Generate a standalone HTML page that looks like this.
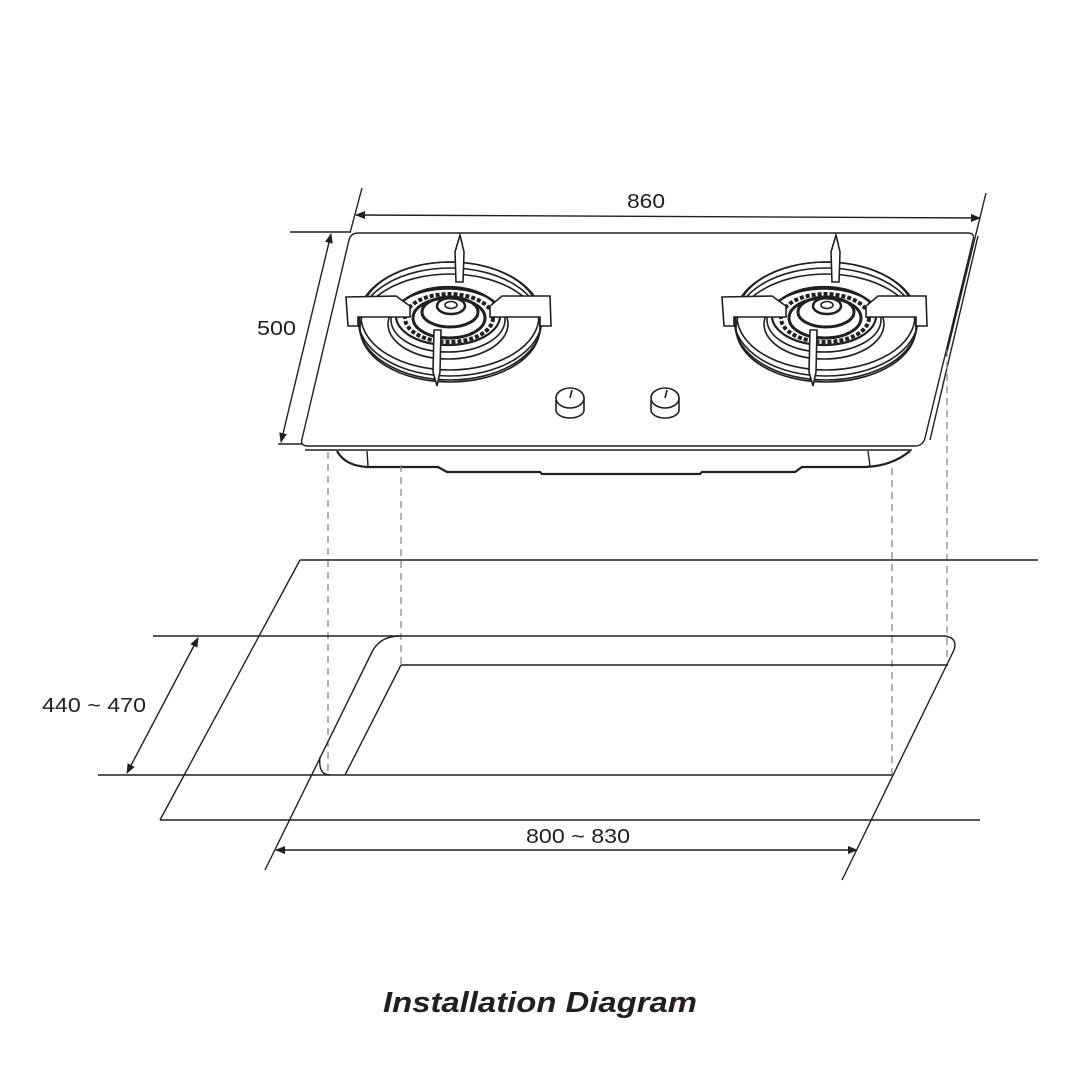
<!DOCTYPE html>
<html><head><meta charset="utf-8"><style>
html,body{margin:0;padding:0;background:#fff;}
svg{display:block}
text{font-family:"Liberation Sans",sans-serif;fill:#231f20}
</style></head><body>
<svg width="1080" height="1080" viewBox="0 0 1080 1080" xmlns="http://www.w3.org/2000/svg">
<defs>
<marker id="a" markerWidth="10" markerHeight="8" refX="9" refY="4" orient="auto-start-reverse" markerUnits="userSpaceOnUse"><path d="M0,0 L10,4 L0,8 Z" fill="#231f20"/></marker>
<g id="burner" fill="none" stroke="#231f20" stroke-width="1.6">
<ellipse cx="450" cy="328" rx="90" ry="54"/>
<ellipse cx="450" cy="324" rx="91" ry="56"/>
<ellipse cx="450" cy="319" rx="92" ry="57"/>
<ellipse cx="450" cy="316" rx="89" ry="54"/>
<ellipse cx="448" cy="324" rx="60" ry="35"/>
<ellipse cx="448" cy="320" rx="57" ry="32"/>
<ellipse cx="448" cy="316" rx="52" ry="29" stroke-width="2.2"/>
<ellipse cx="449" cy="318" rx="44" ry="24" stroke-width="4" stroke-dasharray="4,2"/>
<ellipse cx="449" cy="318" rx="36" ry="20" stroke-width="3"/>
<ellipse cx="450" cy="312" rx="28" ry="15" stroke-width="3"/>
<ellipse cx="451" cy="306" rx="14" ry="8" stroke-width="2.5"/>
<ellipse cx="451" cy="305" rx="6" ry="3.5"/>
<path d="M346,297 L396,296 L410,306 L410,317 L358,317 L358,326 L348,326 Z" fill="#fff"/>
<path d="M550,296 L502,296 L490,306 L490,317 L540,317 L540,326 L551,326 Z" fill="#fff"/>
<path d="M460,235 L464,252 L463,282 L456,282 L455,252 Z" fill="#fff"/>
<path d="M441,330 L440,372 L437,386 L433,372 L434,330 Z" fill="#fff"/>
</g>
</defs>
<g fill="none" stroke="#231f20" stroke-width="1.4">
<path d="M358,233 L968,233 Q975,233 973,240 L925,438 Q923,446 915,446 L308,446 Q300,446 302,439 L349,240 Q351,233 358,233 Z"/>
<line x1="305" y1="450" x2="912" y2="450"/>
<line x1="986" y1="193" x2="946" y2="356"/>
<line x1="978" y1="236" x2="930" y2="440"/>
<path d="M337,451 Q345,466 368,467 L438,467 L447,472 L540,472 L542,474 L700,474 L702,472 L795,472 L802,467 L865,467 Q892,466 910,451" stroke-width="2.2"/>
<line x1="367" y1="451" x2="368" y2="466"/>
<line x1="868" y1="451" x2="870" y2="466"/>
<line x1="362" y1="188" x2="350" y2="233"/>
<line x1="356" y1="215" x2="980" y2="218" marker-start="url(#a)" marker-end="url(#a)"/>
<line x1="290" y1="232" x2="350" y2="232"/>
<line x1="278" y1="444" x2="302" y2="444"/>
<line x1="331" y1="234" x2="281" y2="442" marker-start="url(#a)" marker-end="url(#a)"/>
<g stroke="#888" stroke-dasharray="7,5" stroke-width="1.3">
<line x1="328" y1="452" x2="328" y2="775"/>
<line x1="401" y1="465" x2="401" y2="665"/>
<line x1="892" y1="468" x2="892" y2="775"/>
<line x1="947" y1="350" x2="947" y2="662"/>
</g>
<line x1="300" y1="560" x2="1038" y2="560"/>
<line x1="300" y1="560" x2="160" y2="820"/>
<line x1="160" y1="820" x2="980" y2="820"/>
<line x1="153" y1="636" x2="400" y2="636"/>
<path d="M400,636 Q380,636 372,652 L265,870"/>
<path d="M400,636 L945,636 Q958,638 954,650 L842,880"/>
<line x1="401" y1="665" x2="948" y2="665"/>
<line x1="401" y1="665" x2="345" y2="775"/>
<line x1="98" y1="775" x2="892" y2="775"/>
<path d="M320,757 Q318,775 330,775"/>
<line x1="198" y1="638" x2="127" y2="773" marker-start="url(#a)" marker-end="url(#a)"/>
<line x1="276" y1="850" x2="857" y2="850" marker-start="url(#a)" marker-end="url(#a)"/>
</g>
<use href="#burner"/>
<use href="#burner" transform="translate(376,0)"/>
<g fill="#fff" stroke="#231f20" stroke-width="1.6">
<path d="M556,400 L556,410 A14,8 0 0 0 584,410 L584,398"/>
<ellipse cx="570" cy="398" rx="14" ry="10"/>
<line x1="570" y1="398" x2="572" y2="390"/>
<path d="M651,400 L651,410 A14,8 0 0 0 679,410 L679,398"/>
<ellipse cx="665" cy="398" rx="14" ry="10"/>
<line x1="665" y1="398" x2="667" y2="390"/>
</g>
<text x="627" y="208" font-size="20" textLength="38" lengthAdjust="spacingAndGlyphs">860</text>
<text x="257" y="335" font-size="20" textLength="39" lengthAdjust="spacingAndGlyphs">500</text>
<text x="42" y="712" font-size="20" textLength="104" lengthAdjust="spacingAndGlyphs">440 ~ 470</text>
<text x="526" y="843" font-size="20" textLength="104" lengthAdjust="spacingAndGlyphs">800 ~ 830</text>
<text x="383" y="1012" font-size="29" font-weight="bold" font-style="italic" textLength="314" lengthAdjust="spacingAndGlyphs">Installation Diagram</text>
</svg>
</body></html>
